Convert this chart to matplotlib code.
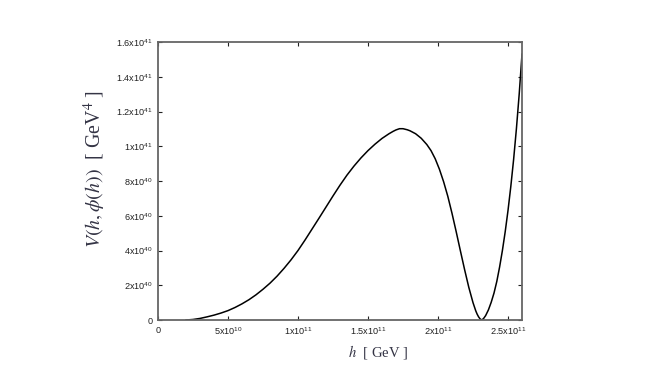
import matplotlib
matplotlib.use("Agg")
import matplotlib.pyplot as plt

# h in units of 1e11 GeV, V in units of 1e41 GeV^4
h_vals = [0.20, 0.25, 0.30, 0.35, 0.40, 0.45, 0.50, 0.55, 0.60, 0.65,
          0.70, 0.75, 0.80, 0.85, 0.90, 0.95, 1.00, 1.05, 1.10, 1.15,
          1.20, 1.25, 1.30, 1.35, 1.40, 1.45, 1.50, 1.55, 1.60, 1.65,
          1.68, 1.70, 1.725, 1.75, 1.78, 1.80, 1.84, 1.88, 1.92, 1.95, 1.98, 2.01,
          2.04, 2.07, 2.10, 2.13, 2.16, 2.19, 2.22, 2.25, 2.27, 2.28, 2.29,
          2.30, 2.312, 2.325, 2.34, 2.36, 2.38, 2.40, 2.42, 2.44, 2.46,
          2.48, 2.50, 2.52, 2.54, 2.56, 2.58, 2.60]
v_vals = [0.000, 0.003, 0.009, 0.018, 0.028, 0.040, 0.054, 0.072, 0.093, 0.117,
          0.145, 0.177, 0.212, 0.252, 0.297, 0.346, 0.400, 0.460, 0.523, 0.586,
          0.650, 0.714, 0.776, 0.834, 0.886, 0.933, 0.975, 1.012, 1.045, 1.072,
          1.086, 1.094, 1.101, 1.101, 1.095, 1.089, 1.072, 1.046, 1.010, 0.975, 0.928, 0.868,
          0.796, 0.712, 0.614, 0.508, 0.398, 0.290, 0.188, 0.100, 0.052, 0.033, 0.018,
          0.007, 0.000, 0.008, 0.025, 0.058, 0.102, 0.155, 0.222, 0.305, 0.400,
          0.508, 0.630, 0.768, 0.923, 1.100, 1.300, 1.530]

x_ticks = [0, 0.5, 1.0, 1.5, 2.0, 2.5]
x_ticklabels = ["0", r"5x10$^{10}$", r"1x10$^{11}$", r"1.5x10$^{11}$",
                r"2x10$^{11}$", r"2.5x10$^{11}$"]
y_ticks = [0, 0.2, 0.4, 0.6, 0.8, 1.0, 1.2, 1.4, 1.6]
y_ticklabels = ["0", r"2x10$^{40}$", r"4x10$^{40}$", r"6x10$^{40}$",
                r"8x10$^{40}$", r"1x10$^{41}$", r"1.2x10$^{41}$",
                r"1.4x10$^{41}$", r"1.6x10$^{41}$"]

plt.rcParams['font.family'] = ['Liberation Sans', 'DejaVu Sans']
plt.rcParams['mathtext.fontset'] = 'custom'
plt.rcParams['mathtext.rm'] = 'Liberation Sans'

fig = plt.figure(figsize=(6.67, 3.75), dpi=100)
ax = fig.add_axes([158/667, 55/375, 364/667, 278/375])

ax.plot(h_vals, v_vals, color='black', lw=1.1)
ax.set_xlim(0, 2.6)
ax.set_ylim(0, 1.6)

ax.set_xticks(x_ticks)
ax.set_xticklabels(x_ticklabels)
ax.set_yticks(y_ticks)
ax.set_yticklabels(y_ticklabels)

ax.tick_params(axis='both', direction='in', length=3, width=0.8,
               labelsize=6.6, colors='#222222', top=True, right=True,
               labeltop=False, labelright=False, pad=4)
for sp in ax.spines.values():
    sp.set_color('#666666')
    sp.set_linewidth(1.3)

serif = ['Liberation Serif', 'DejaVu Serif']
fig.text(378/667, 1 - 352/375, r"$h$  [ GeV ]", family=serif, fontsize=10.5,
         color='#333344', ha='center', va='center',
         math_fontfamily='stix')
fig.text(95/667, 1 - 169/375, r"$V(h,\phi(h))$  [ GeV$^{4}$ ]", family=serif,
         fontsize=14.3, color='#333344', ha='center', va='center',
         rotation=90, math_fontfamily='stix')

fig.savefig("out.png", dpi=100)
